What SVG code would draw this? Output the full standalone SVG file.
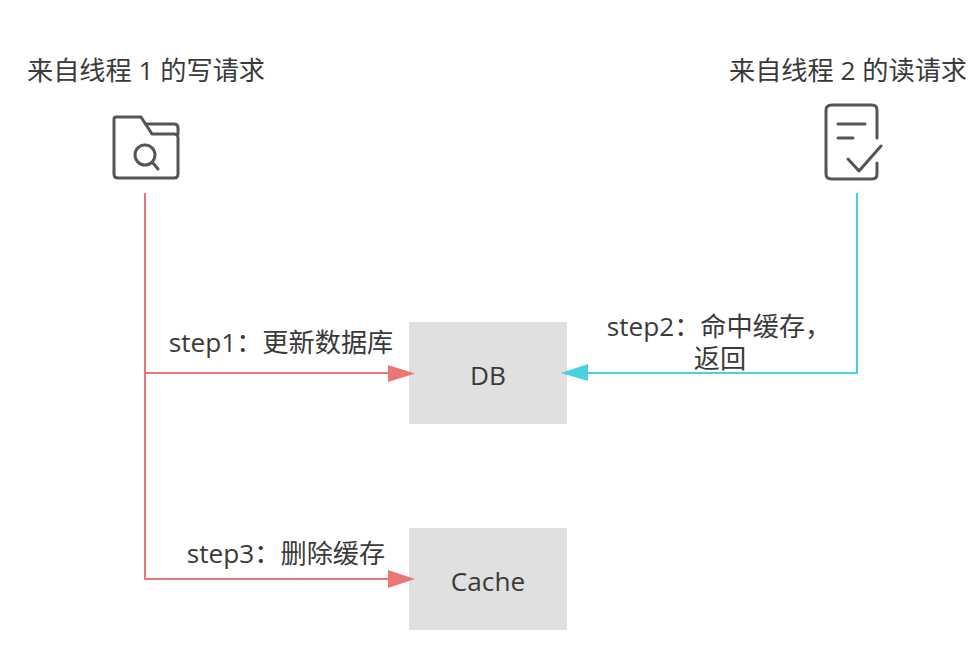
<svg xmlns="http://www.w3.org/2000/svg" width="979" height="665" viewBox="0 0 979 665">
<style>
text{font-family:"Open Sans","Noto Sans CJK SC",sans-serif;font-size:26.200px;fill:#3a3a3a;text-anchor:middle}
.box{fill:#e0e0e0}
.icon{fill:none;stroke:#555;stroke-width:3;stroke-linecap:round;stroke-linejoin:round}
.red{fill:none;stroke:#ea7676;stroke-width:2}
.cyan{fill:none;stroke:#47d1e3;stroke-width:2}
</style>
<rect width="979" height="665" fill="#fff"/>
<g id="write-request">
<text x="146" y="80">来自线程 1 的写请求</text>
<path class="icon" d="M116 117H141L152 134H174Q178 134 178 138V174Q178 178 174 178H118Q114 178 114 174V119Q114 117 116 117Z"/>
<path class="icon" d="M146 124H174Q178 124 178 128V134"/>
<circle class="icon" cx="145" cy="155" r="10"/>
<path class="icon" d="M153 163L158 169"/>
</g>
<g id="read-request">
<text x="848" y="80">来自线程 2 的读请求</text>
<path class="icon" d="M877 138V110Q877 105 872 105H832Q826 105 826 110V174Q826 179 832 179H872Q877 179 877 174V163"/>
<path class="icon" d="M838 124H865M838 138H853"/>
<path class="icon" d="M848 159L859 171L881 146"/>
</g>
<g id="db">
<rect class="box" x="409" y="322" width="158" height="102"/>
<text x="488" y="385">DB</text>
</g>
<g id="cache">
<rect class="box" x="409" y="528" width="158" height="102"/>
<text x="488" y="591">Cache</text>
</g>
<g id="connectors">
<path class="red" d="M145 193V579H390"/>
<path class="red" d="M145 373H390"/>
<polygon points="388,365 415,373.500 388,382" fill="#ea7676"/>
<polygon points="388,570 415,579 388,588" fill="#ea7676"/>
<path class="cyan" d="M857 193V373H586"/>
<polygon points="588,364 561,373 588,381" fill="#47d1e3"/>
</g>
<g id="labels">
<text x="281" y="352">step1：更新数据库</text>
<text x="719" y="336">step2：命中缓存，</text>
<text x="720" y="368">返回</text>
<text x="286" y="563">step3：删除缓存</text>
</g>
</svg>
